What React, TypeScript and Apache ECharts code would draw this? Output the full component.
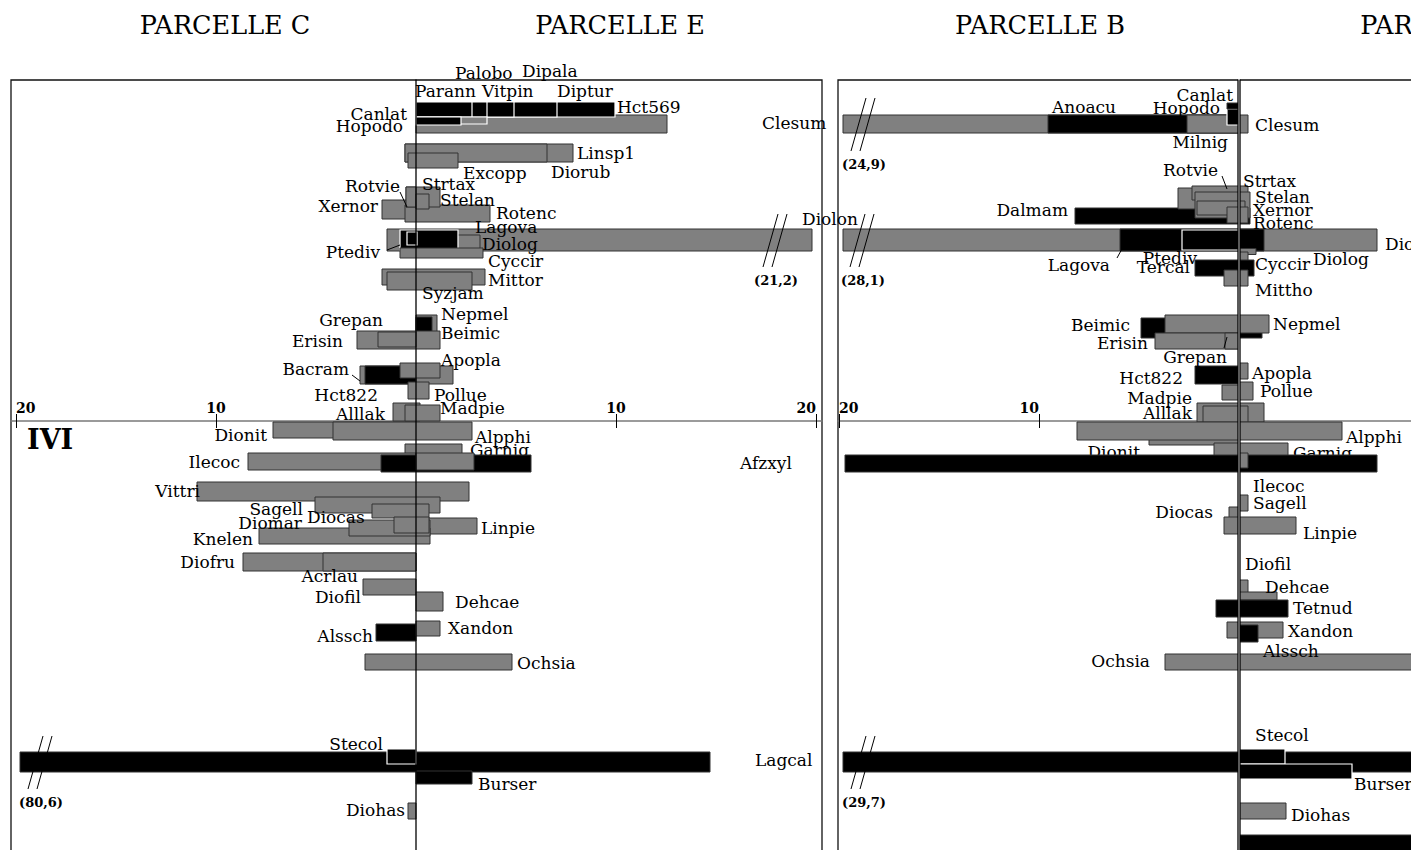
import React, { useEffect, useRef } from "react";
import * as echarts from "echarts";

// Row scale: 0 is the IVI axis, positive values go down the page (10 px per row unit).
const ROW_MIN = -34.1;
const ROW_MAX = 44.9;
// Bars whose value runs past the axis break are drawn up to this length.
const BREAK_CAP = 19.8;

const TICK_VALUES = [-20, -10, 10, 20];
const TITLES = ["PARCELLE C", "PARCELLE E", "PARCELLE B", "PARCELLE D"];
const AXIS_TITLE = "IVI";

// Bar rows: [start, end, row centre, thickness, style, break-mark position?]
// style: 0 grey / dark edge, 1 black / dark edge, 2 black / white edge, 3 grey / white edge
const barsCE: number[][] = [
  [0, 12.55, -29.7, 1.8, 0],
  [0, 9.95, -31.15, 1.5, 2],
  [0, 7.05, -31.15, 1.5, 2],
  [0, 4.9, -31.15, 1.5, 2],
  [0, 3.55, -31.15, 1.5, 2],
  [0, 2.8, -31.15, 1.5, 2],
  [0, 3.55, -30.05, 0.7, 3],
  [0, 2.25, -30.0, 0.8, 2],
  [-0.55, 7.85, -26.8, 1.8, 0],
  [-0.55, 6.55, -26.8, 1.8, 0],
  [-0.4, 2.1, -26.05, 1.5, 0],
  [-1.7, 0, -21.15, 1.9, 0],
  [-0.55, 3.7, -20.75, 1.7, 0],
  [-0.5, 1.2, -22.4, 2.0, 0],
  [-0.5, 0, -22.4, 2.0, 0],
  [0, 0.65, -21.95, 1.5, 0],
  [-1.45, 21.2, -18.1, 2.2, 0, 17.95],
  [-0.55, 3.2, -17.8, 1.6, 0],
  [-0.8, 2.1, -18.1, 2.0, 2],
  [-0.45, 0.05, -18.25, 1.3, 2],
  [-0.8, 3.35, -16.8, 1.0, 0],
  [-1.7, 3.45, -14.4, 1.6, 0],
  [-1.45, 2.8, -14.0, 1.8, 0],
  [0, 1.05, -9.7, 1.8, 0],
  [0, 0.8, -9.4, 2.0, 1],
  [-2.95, 1.2, -8.1, 1.8, 0],
  [-1.9, 0, -8.15, 1.5, 0],
  [-2.8, 1.85, -4.6, 1.8, 0],
  [-2.55, 0, -4.6, 1.8, 1],
  [-0.8, 1.2, -5.05, 1.5, 0],
  [-0.4, 0.65, -3.05, 1.7, 0],
  [-1.15, 0.2, -0.9, 1.8, 0],
  [-0.55, 1.2, -0.8, 1.6, 0],
  [-7.15, 0, 0.9, 1.6, 0],
  [-4.15, 2.8, 1.0, 1.8, 0],
  [-0.55, 2.3, 2.9, 1.2, 0],
  [-8.4, 0, 4.05, 1.7, 0],
  [-1.75, 5.75, 4.25, 1.7, 1],
  [0, 2.9, 4.05, 1.7, 0],
  [-10.95, 2.65, 7.05, 1.9, 0],
  [-5.05, 1.2, 8.4, 1.6, 0],
  [-2.2, 0.65, 9.0, 1.4, 0],
  [0, 3.05, 10.5, 1.6, 0],
  [-7.85, 0.7, 11.5, 1.6, 0],
  [-3.35, 0.7, 10.7, 1.6, 0],
  [-1.1, 0.65, 10.4, 1.6, 0],
  [-8.65, 0, 14.1, 1.8, 0],
  [-4.65, 0, 14.1, 1.8, 0],
  [-2.65, 0, 16.6, 1.6, 0],
  [0, 1.35, 18.05, 1.9, 0],
  [-2.0, 0, 21.15, 1.7, 1],
  [0, 1.2, 20.75, 1.5, 0],
  [-2.55, 4.8, 24.1, 1.6, 0],
  [-80.6, 14.7, 34.1, 2.0, 1, -18.8],
  [-1.45, 0, 33.55, 1.5, 2],
  [0, 2.8, 35.65, 1.3, 1],
  [-0.4, 0, 39.0, 1.6, 0],
];

// Species labels: [name, x, row, alignment, layer]; layer 0 sits under the bars, 1 above them
type Label = [string, number, number, string, number];
const labelsCE: Label[] = [
  ["Palobo", 1.95, -34.8, "left", 1],
  ["Dipala", 5.3, -35.0, "left", 1],
  ["Parann", -0.05, -33.0, "left", 1],
  ["Vitpin", 3.3, -33.0, "left", 1],
  ["Diptur", 7.05, -33.0, "left", 1],
  ["Hct569", 10.05, -31.4, "left", 1],
  ["Canlat", -0.45, -30.7, "right", 1],
  ["Hopodo", -0.65, -29.5, "right", 1],
  ["Clesum", 17.3, -29.8, "left", 1],
  ["Linsp1", 8.05, -26.8, "left", 1],
  ["Excopp", 2.35, -24.8, "left", 1],
  ["Diorub", 6.75, -24.9, "left", 1],
  ["Rotvie", -0.8, -23.5, "right", 1],
  ["Strtax", 0.3, -23.7, "left", 1],
  ["Stelan", 1.2, -22.1, "left", 1],
  ["Xernor", -1.9, -21.5, "right", 1],
  ["Rotenc", 4.0, -20.8, "left", 1],
  ["Diolon", 19.3, -20.2, "left", 1],
  ["Lagova", 2.95, -19.4, "left", 1],
  ["Diolog", 3.3, -17.7, "left", 1],
  ["Ptediv", -1.8, -16.9, "right", 1],
  ["Cyccir", 3.6, -16.0, "left", 1],
  ["Mittor", 3.6, -14.1, "left", 1],
  ["Syzjam", 0.3, -12.8, "left", 1],
  ["Nepmel", 1.25, -10.7, "left", 1],
  ["Grepan", -1.65, -10.1, "right", 1],
  ["Beimic", 1.25, -8.8, "left", 1],
  ["Erisin", -3.65, -8.0, "right", 1],
  ["Apopla", 1.25, -6.1, "left", 1],
  ["Bacram", -3.35, -5.2, "right", 1],
  ["Hct822", -1.9, -2.6, "right", 1],
  ["Pollue", 0.9, -2.6, "left", 1],
  ["Alllak", -1.55, -0.7, "right", 0],
  ["Madpie", 1.2, -1.3, "left", 1],
  ["Dionit", -7.45, 1.4, "right", 1],
  ["Alpphi", 2.95, 1.6, "left", 1],
  ["Garnig", 2.7, 2.9, "left", 0],
  ["Ilecoc", -8.8, 4.1, "right", 1],
  ["Afzxyl", 16.2, 4.2, "left", 1],
  ["Vittri", -10.8, 7.0, "right", 1],
  ["Sagell", -5.65, 8.8, "right", 1],
  ["Diocas", -5.45, 9.6, "left", 1],
  ["Diomar", -5.7, 10.2, "right", 1],
  ["Linpie", 3.25, 10.7, "left", 1],
  ["Knelen", -8.15, 11.8, "right", 1],
  ["Diofru", -9.05, 14.1, "right", 1],
  ["Acrlau", -2.9, 15.5, "right", 1],
  ["Diofil", -2.75, 17.6, "right", 1],
  ["Dehcae", 1.95, 18.1, "left", 1],
  ["Xandon", 1.6, 20.7, "left", 1],
  ["Alssch", -2.15, 21.5, "right", 1],
  ["Ochsia", 5.05, 24.2, "left", 1],
  ["Stecol", -1.65, 32.3, "right", 1],
  ["Lagcal", 16.95, 33.9, "left", 1],
  ["Burser", 3.1, 36.3, "left", 1],
  ["Diohas", -0.55, 38.9, "right", 1],
];

// Leader lines: [x1, row1, x2, row2]
const leadersCE: number[][] = [
  [-0.8, -22.9, -0.45, -21.4],
  [-1.45, -17.1, -0.8, -17.6],
  [-3.2, -4.6, -2.8, -4.0],
];

const barsBD: number[][] = [
  [-24.9, 0.45, -29.7, 1.8, 0, -18.8],
  [-9.55, 0, -29.7, 1.8, 1],
  [-2.6, 0, -29.7, 1.8, 0],
  [-0.6, 0, -30.4, 1.6, 2],
  [-0.6, 0, -31.5, 0.6, 1],
  [-8.2, 0.55, -20.5, 1.6, 1],
  [-3.05, 0, -22.25, 2.1, 0],
  [-2.35, 0.45, -22.8, 1.4, 0],
  [-2.2, 0.55, -21.6, 2.6, 0],
  [-2.1, 0.3, -21.3, 1.4, 0],
  [-0.6, 0.45, -20.6, 1.6, 0],
  [-28.1, 6.9, -18.1, 2.2, 0, -18.85],
  [-5.95, 1.25, -18.1, 2.2, 1],
  [-2.85, 0, -18.1, 2.0, 2],
  [0, 0.85, -16.95, 0.6, 0],
  [0, 0.45, -16.45, 0.9, 0],
  [-2.2, 0.75, -15.3, 1.6, 1],
  [-0.75, 0.45, -14.3, 1.6, 0],
  [-4.9, 1.15, -9.3, 2.0, 1],
  [-3.7, 1.5, -9.7, 1.8, 0],
  [-4.2, 0, -8.0, 1.6, 0],
  [-0.7, 0, -8.0, 1.6, 0],
  [-2.2, 0, -4.6, 1.8, 1],
  [0, 0.45, -5.0, 1.6, 0],
  [-0.85, 0, -2.85, 1.5, 0],
  [0, 0.7, -3.0, 1.8, 0],
  [-2.1, 1.25, -0.85, 1.9, 0],
  [-1.8, 0.45, -0.7, 1.6, 0],
  [-4.5, 0, 1.65, 1.5, 0],
  [-8.1, 5.15, 1.0, 1.8, 0],
  [-1.25, 2.45, 3.1, 1.8, 0],
  [-19.7, 6.9, 4.25, 1.7, 1],
  [0, 0.45, 3.95, 1.5, 0],
  [0, 0.45, 8.2, 1.6, 0],
  [-0.5, 0, 9.25, 1.3, 0],
  [-0.75, 2.85, 10.45, 1.7, 0],
  [0, 0.45, 16.6, 1.4, 0],
  [0, 1.9, 17.5, 0.8, 0],
  [-1.15, 2.45, 18.75, 1.7, 1],
  [-0.6, 2.2, 20.9, 1.6, 0],
  [0, 0.95, 21.25, 1.7, 1],
  [-3.7, 10.0, 24.1, 1.6, 0],
  [-29.7, 11.0, 34.1, 2.0, 1, -18.8],
  [0, 2.3, 33.55, 1.5, 2],
  [0, 5.65, 35.05, 1.5, 2],
  [0, 2.35, 39.0, 1.6, 0],
  [0, 9.0, 42.4, 2.0, 1],
];

const labelsBD: Label[] = [
  ["Canlat", -0.3, -32.6, "right", 1],
  ["Hopodo", -0.95, -31.3, "right", 1],
  ["Anoacu", -9.35, -31.4, "left", 0],
  ["Clesum", 0.8, -29.6, "left", 1],
  ["Milnig", -0.55, -27.9, "right", 1],
  ["Rotvie", -1.05, -25.1, "right", 1],
  ["Strtax", 0.2, -24.0, "left", 1],
  ["Stelan", 0.8, -22.4, "left", 1],
  ["Xernor", 0.7, -21.1, "left", 1],
  ["Dalmam", -8.55, -21.1, "right", 1],
  ["Rotenc", 0.7, -19.8, "left", 1],
  ["Diolon", 7.3, -17.7, "left", 1],
  ["Diolog", 3.7, -16.2, "left", 1],
  ["Ptediv", -2.1, -16.3, "right", 1],
  ["Tercal", -2.45, -15.4, "right", 1],
  ["Lagova", -6.45, -15.6, "right", 1],
  ["Cyccir", 0.8, -15.7, "left", 1],
  ["Mittho", 0.8, -13.1, "left", 1],
  ["Nepmel", 1.7, -9.7, "left", 1],
  ["Beimic", -5.45, -9.6, "right", 1],
  ["Erisin", -4.55, -7.8, "right", 1],
  ["Grepan", -0.6, -6.4, "right", 1],
  ["Apopla", 0.65, -4.8, "left", 1],
  ["Hct822", -2.8, -4.3, "right", 1],
  ["Pollue", 1.05, -3.0, "left", 1],
  ["Madpie", -2.35, -2.3, "right", 1],
  ["Alllak", -2.35, -0.8, "right", 0],
  ["Alpphi", 5.35, 1.6, "left", 1],
  ["Dionit", -4.95, 3.1, "right", 0],
  ["Garnig", 2.7, 3.2, "left", 0],
  ["Ilecoc", 0.7, 6.5, "left", 1],
  ["Sagell", 0.7, 8.2, "left", 1],
  ["Diocas", -1.3, 9.1, "right", 1],
  ["Linpie", 3.2, 11.2, "left", 1],
  ["Diofil", 0.3, 14.3, "left", 1],
  ["Dehcae", 1.3, 16.6, "left", 1],
  ["Tetnud", 2.7, 18.7, "left", 1],
  ["Xandon", 2.45, 21.0, "left", 1],
  ["Alssch", 1.2, 23.0, "left", 1],
  ["Ochsia", -4.45, 24.0, "right", 1],
  ["Stecol", 0.8, 31.4, "left", 1],
  ["Burser", 5.75, 36.3, "left", 1],
  ["Diohas", 2.6, 39.4, "left", 1],
];

const leadersBD: number[][] = [
  [-0.85, -24.5, -0.6, -23.2],
  [-6.1, -16.3, -5.8, -17.4],
  [-0.75, -7.3, -0.6, -8.4],
];

const SERIF = "DejaVu Serif";
const LABEL_SIZE = 17;
const GREY = "#808080";
const EDGE = "#333333";
const BAR_STYLES = [
  { fill: GREY, stroke: EDGE, lineWidth: 1 },
  { fill: "#000000", stroke: EDGE, lineWidth: 1 },
  { fill: "#000000", stroke: "#ffffff", lineWidth: 1.2 },
  { fill: GREY, stroke: "#ffffff", lineWidth: 1.2 },
];

// Frame geometry (pixels) shared by both frames.
const GRID_TOP = 80;
const GRID_HEIGHT = 790;
const AXIS_OFFSET_TOP = -341; // moves the top axis from the frame top down to row 0
const AXIS_OFFSET_BOTTOM = -449; // moves the bottom axis from the frame bottom up to row 0

const breakText = (v: number) => "(" + Math.abs(v).toFixed(1).replace(".", ",") + ")";

function labelSeries(labels: Label[], layer: number, base: any, z: number) {
  const items = labels.filter((l) => l[4] === layer);
  return {
    ...base,
    z,
    data: items.map((l) => [l[1], l[2]]),
    renderItem: (p: any, api: any) => {
      const l = items[p.dataIndex];
      const c = api.coord([l[1], l[2]]);
      return {
        type: "text",
        x: c[0],
        y: c[1],
        style: {
          text: l[0],
          fill: "#000",
          fontSize: LABEL_SIZE,
          fontFamily: SERIF,
          align: l[3],
          verticalAlign: "middle",
        },
      };
    },
  };
}

function frameSeries(
  bars: number[][],
  labels: Label[],
  leaders: number[][],
  dividers: number[],
  xi: number,
  yi: number
) {
  const base = { type: "custom", xAxisIndex: xi, yAxisIndex: yi, silent: true, clip: false };
  const broken = bars.filter((b) => b.length > 5);
  return [
    labelSeries(labels, 0, base, 2),
    {
      ...base,
      z: 3,
      data: bars.map((b) => [b[0], b[2]]),
      renderItem: (p: any, api: any) => {
        const b = bars[p.dataIndex];
        const isBroken = b.length > 5;
        const lo = isBroken ? Math.max(b[0], -BREAK_CAP) : b[0];
        const hi = isBroken ? Math.min(b[1], BREAK_CAP) : b[1];
        const p0 = api.coord([lo, b[2] - b[3] / 2]);
        const p1 = api.coord([hi, b[2] + b[3] / 2]);
        return {
          type: "rect",
          shape: {
            x: Math.min(p0[0], p1[0]),
            y: Math.min(p0[1], p1[1]),
            width: Math.abs(p1[0] - p0[0]),
            height: Math.abs(p1[1] - p0[1]),
          },
          style: BAR_STYLES[b[4]],
        };
      },
    },
    labelSeries(labels, 1, base, 4),
    {
      ...base,
      z: 4,
      data: leaders.map((l) => [l[0], l[1]]),
      renderItem: (p: any, api: any) => {
        const l = leaders[p.dataIndex];
        const a = api.coord([l[0], l[1]]);
        const b = api.coord([l[2], l[3]]);
        return {
          type: "line",
          shape: { x1: a[0], y1: a[1], x2: b[0], y2: b[1] },
          style: { stroke: "#000", lineWidth: 1 },
        };
      },
    },
    {
      ...base,
      z: 5,
      data: [[0, 0]],
      renderItem: (p: any, api: any) => {
        const children: any[] = [];
        if (dividers.length > 1) {
          const a = api.coord([dividers[0], ROW_MIN]);
          const b = api.coord([dividers[dividers.length - 1], ROW_MAX]);
          children.push({
            type: "rect",
            shape: { x: a[0], y: a[1] - 1, width: b[0] - a[0], height: b[1] - a[1] + 1 },
            style: { fill: "#fff" },
          });
        }
        dividers.forEach((d) => {
          const a = api.coord([d, ROW_MIN]);
          const b = api.coord([d, ROW_MAX]);
          children.push({
            type: "line",
            shape: { x1: a[0], y1: a[1] - 0.6, x2: b[0], y2: b[1] },
            style: { stroke: "#000", lineWidth: 1.3 },
          });
        });
        return { type: "group", children };
      },
    },
    {
      ...base,
      z: 6,
      data: broken.map((b) => [b[5], b[2]]),
      renderItem: (p: any, api: any) => {
        const b = broken[p.dataIndex];
        const v = b[0] < -BREAK_CAP ? b[0] : b[1];
        const c = api.coord([b[5], b[2]]);
        const children: any[] = [-4.5, 4.5].map((off) => ({
          type: "line",
          shape: { x1: c[0] + off + 7.5, y1: c[1] - 26, x2: c[0] + off - 7.5, y2: c[1] + 27 },
          style: { stroke: "#000", lineWidth: 1 },
        }));
        children.push({
          type: "text",
          x: c[0] + 1,
          y: c[1] + 40,
          style: {
            text: breakText(v),
            fill: "#000",
            fontSize: 13,
            fontWeight: "bold",
            fontFamily: SERIF,
            align: "center",
            verticalAlign: "middle",
          },
        });
        return { type: "group", children };
      },
    },
  ];
}

function xAxes(gridIndex: number, min: number, max: number, labelValues: number[]) {
  const common = {
    type: "value",
    gridIndex,
    min,
    max,
    splitLine: { show: false },
  };
  return [
    {
      ...common,
      position: "top",
      offset: AXIS_OFFSET_TOP,
      axisLine: { show: true, onZero: false, lineStyle: { color: "#7a7a7a", width: 1.6 } },
      axisTick: { show: true, customValues: TICK_VALUES, length: 7, lineStyle: { color: "#000", width: 1 } },
      axisLabel: {
        show: true,
        customValues: labelValues,
        formatter: (v: number) => String(Math.abs(v)),
        margin: 6,
        color: "#000",
        fontFamily: SERIF,
        fontWeight: "bold",
        fontSize: 14,
        alignMinLabel: "left",
        alignMaxLabel: "right",
      },
    },
    {
      ...common,
      position: "bottom",
      offset: AXIS_OFFSET_BOTTOM,
      axisLine: { show: false, onZero: false },
      axisTick: { show: true, customValues: TICK_VALUES, length: 7, lineStyle: { color: "#000", width: 1 } },
      axisLabel: { show: false },
    },
  ];
}

function buildOption() {
  const yAxis = (gridIndex: number) => ({
    type: "value",
    gridIndex,
    inverse: true,
    min: ROW_MIN,
    max: ROW_MAX,
    show: false,
    splitLine: { show: false },
  });
  const titleCentres = [225, 620, 1040, 1446];
  const gridCommon = {
    top: GRID_TOP,
    height: GRID_HEIGHT,
    show: true,
    borderColor: "#111",
    borderWidth: 1.3,
    outerBoundsMode: "none",
    containLabel: false,
  };
  return {
    animation: false,
    backgroundColor: "#ffffff",
    grid: [
      { ...gridCommon, left: 11, width: 811 },
      { ...gridCommon, left: 838, width: 802 },
    ],
    xAxis: [
      ...xAxes(0, -20.25, 20.3, TICK_VALUES),
      ...xAxes(1, -20.05, 20.05, TICK_VALUES.filter((v) => v < 0)),
    ],
    yAxis: [yAxis(0), yAxis(1)],
    series: [
      ...frameSeries(barsCE, labelsCE, leadersCE, [0], 0, 0),
      ...frameSeries(barsBD, labelsBD, leadersBD, [-0.05, 0.05], 2, 1),
    ],
    graphic: [
      ...TITLES.map((t, i) => ({
        type: "text",
        x: titleCentres[i],
        y: 25,
        style: {
          text: t,
          fill: "#000",
          fontSize: 25.5,
          fontFamily: SERIF,
          align: "center",
          verticalAlign: "middle",
        },
      })),
      {
        type: "text",
        x: 27,
        y: 439,
        style: {
          text: AXIS_TITLE,
          fill: "#000",
          fontSize: 27,
          fontWeight: "bold",
          fontFamily: SERIF,
          align: "left",
          verticalAlign: "middle",
        },
      },
    ],
  };
}

export default function App() {
  const ref = useRef<HTMLDivElement>(null);
  useEffect(() => {
    const chart = echarts.init(ref.current as HTMLDivElement, null, { renderer: "svg" });
    chart.setOption(buildOption() as any);
    return () => chart.dispose();
  }, []);
  return (
    <div
      ref={ref}
      style={{ position: "absolute", left: 0, top: 0, width: 1411, height: 850, background: "#fff" }}
    />
  );
}
